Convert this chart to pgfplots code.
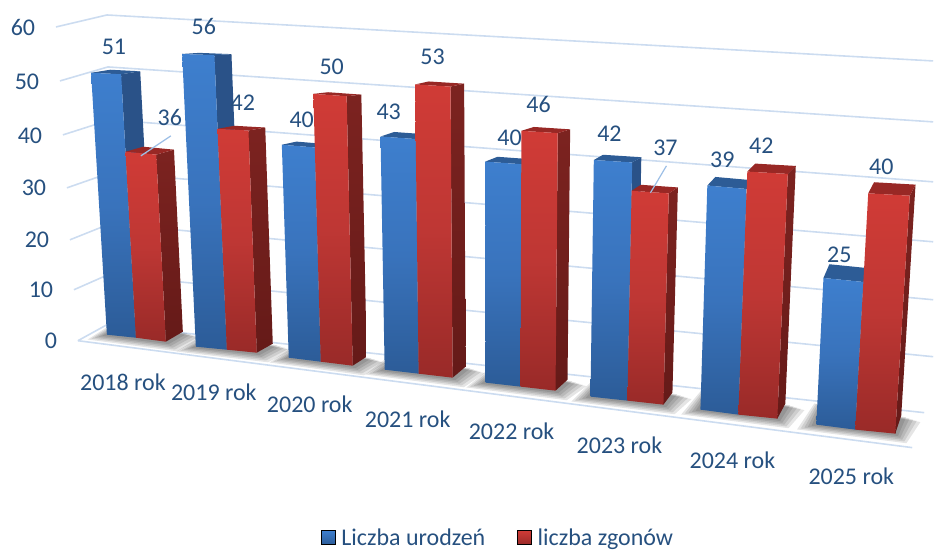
\documentclass[border=0pt]{standalone}
\usepackage{pgfplots}
\pgfplotsset{compat=1.18}
\usepackage{pgfplotstable}
\usepackage{fontspec}
\setmainfont{Carlito}
\definecolor{txt}{HTML}{26507F}
\definecolor{gridc}{HTML}{CCDCF0}
\definecolor{bT}{HTML}{3E7FCE}
\definecolor{bM}{HTML}{3973BC}
\definecolor{bB}{HTML}{2C5C98}
\definecolor{bS}{HTML}{2A5288}
\definecolor{bSb}{HTML}{2A5288}
\definecolor{bU}{HTML}{2D5C96}
\definecolor{rT}{HTML}{D03B36}
\definecolor{rM}{HTML}{BE3734}
\definecolor{rB}{HTML}{992A28}
\definecolor{rS}{HTML}{7C2320}
\definecolor{rSb}{HTML}{651A18}
\definecolor{rU}{HTML}{982825}
\definecolor{leader}{HTML}{9DBFE6}
% a bar corner: floor point (xb+dx, yb+dy), raised by the value v with the chart's perspective
\pgfplotstableset{
  px/.style={row sep=\\,
    x expr={(\thisrow{xb}+\thisrow{dx})+((\thisrow{xb}+\thisrow{dx})-500)*(5.03+0.00103*(\thisrow{xb}+\thisrow{dx}))*\thisrow{f}*\thisrow{v}/6500},
    y expr={(\thisrow{yb}+\thisrow{dy})-(5.03+0.00103*(\thisrow{xb}+\thisrow{dx}))*\thisrow{f}*\thisrow{v}}},
  sh/.style={row sep=\\}
}
% #1 colour prefix, #2 #3 front left, #4 #5 front right, #6 #7 depth, #8 value
\newcommand\threeDbar[8]{%
  \addplot[forget plot,draw=none,top color=#1S,bottom color=#1Sb] table[px]{xb yb dx dy f v\\
    #4 #5 0 0 1 #8\\ #4 #5 0 0 1 0\\ #4 #5 #6 #7 0.97 0\\ #4 #5 #6 #7 0.97 #8\\};
  \addplot[forget plot,draw=none,fill=#1U] table[px]{xb yb dx dy f v\\
    #2 #3 0 0 1 #8\\ #4 #5 0 0 1 #8\\ #4 #5 #6 #7 0.97 #8\\ #2 #3 #6 #7 0.97 #8\\};
  \addplot[forget plot,draw=none,top color=#1T,bottom color=#1B,middle color=#1M] table[px]{xb yb dx dy f v\\
    #2 #3 0 0 1 #8\\ #4 #5 0 0 1 #8\\ #4 #5 0 0 1 0\\ #2 #3 0 0 1 0\\};
}
% shadow under one group: #1 growth, #2 #3 front left, #4 #5 front right, #6 #7 depth
\newcommand\shadowlayer[7]{%
  \def\ee{#1}%
  \addplot[forget plot,draw=none,fill=black,fill opacity=0.1] table[sh,
     x expr={\thisrow{x}+\thisrow{dx}+\thisrow{ex}*\ee},y expr={\thisrow{y}+\thisrow{dy}+\thisrow{ey}*\ee}]{x y dx dy ex ey\\
     #2 #3 0 0 -1.2 0.3\\ #4 #5 0 0 0.7 0.6\\ #4 #5 #6 #7 1.2 0.4\\ #2 #3 #6 #7 -0.5 -0.2\\};
}
\newcommand\groupshadow[6]{%
  \shadowlayer{16}{#1}{#2}{#3}{#4}{#5}{#6}%
  \shadowlayer{13}{#1}{#2}{#3}{#4}{#5}{#6}%
  \shadowlayer{10}{#1}{#2}{#3}{#4}{#5}{#6}%
  \shadowlayer{7}{#1}{#2}{#3}{#4}{#5}{#6}%
  \shadowlayer{4}{#1}{#2}{#3}{#4}{#5}{#6}%
}
\begin{document}
\begin{tikzpicture}
\begin{axis}[x=1pt,y=1pt,xmin=0,xmax=934,ymin=0,ymax=550,y dir=reverse,hide axis,clip=false,
  legend style={at={(axis cs:498.5,538)},anchor=center,draw=none,fill=none,legend columns=2,
    font=\fontsize{24}{29}\selectfont,text=txt,
    /tikz/every even column/.append style={column sep=30pt}},
  legend cell align=left,
  ]
\path (axis cs:0,0) rectangle (axis cs:934,550);
% wall and floor lines
\addplot[forget plot,gridc,line width=1.6pt] coordinates{(56,27)(107,15)(934,61)};
\addplot[forget plot,gridc,line width=1.6pt] coordinates{(60,81)(108,67)(934,122)};
\addplot[forget plot,gridc,line width=1.6pt] coordinates{(63,135)(110,120)(934,182)};
\addplot[forget plot,gridc,line width=1.6pt] coordinates{(67,188)(110,173)(934,242)};
\addplot[forget plot,gridc,line width=1.6pt] coordinates{(70,240)(110,224)(934,300)};
\addplot[forget plot,gridc,line width=1.6pt] coordinates{(74,290)(108,275)(934,357)};
\addplot[forget plot,gridc,line width=1.6pt] coordinates{(78,341)(107,325)(925,413)};
\addplot[forget plot,gridc,line width=1.6pt] coordinates{(78,341)(913,448)};
% shadows
\groupshadow{107}{335}{166}{342}{17}{-10}
\groupshadow{196}{347}{257}{353}{16}{-9}
\groupshadow{289}{358}{353}{366}{14}{-9}
\groupshadow{385}{370}{453}{378}{13}{-11}
\groupshadow{486}{383}{556}{391}{12}{-11}
\groupshadow{591}{397}{664}{405}{9}{-12}
\groupshadow{701}{410}{778}{419}{8}{-15}
\groupshadow{817}{425}{896}{434}{6}{-18}
% bars: Liczba urodzeń (b), liczba zgonów (r)
\threeDbar{b}{107}{335}{136}{338}{18}{-10}{51}
\threeDbar{r}{136}{338}{166}{342}{17}{-10}{36}
\threeDbar{b}{196}{347}{227}{350}{16}{-9}{56}
\threeDbar{r}{227}{350}{257}{353}{16}{-9}{42}
\threeDbar{b}{289}{358}{321}{362}{14}{-9}{40}
\threeDbar{r}{321}{362}{353}{366}{14}{-9}{50}
\threeDbar{b}{385}{370}{419}{374}{13}{-11}{43}
\threeDbar{r}{419}{374}{453}{378}{13}{-11}{53}
\threeDbar{b}{486}{383}{521}{387}{12}{-11}{40}
\threeDbar{r}{521}{387}{556}{391}{12}{-11}{46}
\threeDbar{b}{591}{397}{628}{401}{9}{-12}{42}
\threeDbar{r}{628}{401}{664}{405}{9}{-12}{37}
\threeDbar{b}{701}{410}{739}{415}{8}{-15}{39}
\threeDbar{r}{739}{415}{778}{419}{8}{-15}{42}
\threeDbar{b}{817}{425}{856}{430}{6}{-18}{25}
\threeDbar{r}{856}{430}{896}{434}{6}{-18}{40}
% leader lines
\addplot[forget plot,leader,line width=1.2pt] coordinates{(141,156)(171,136)};
\addplot[forget plot,leader,line width=1.2pt] coordinates{(651,193)(667,166)};
% legend
\addlegendimage{legend image code/.code={\path[top color=bT,bottom color=bB](0pt,-7pt) rectangle (14pt,7pt);\path (18pt,0pt);}}
\addlegendentry{Liczba urodzeń}
\addlegendimage{legend image code/.code={\path[top color=rT,bottom color=rB](0pt,-7pt) rectangle (14pt,7pt);\path (18pt,0pt);}}
\addlegendentry{liczba zgonów}
% text
\tikzset{lab/.style={text=txt,font=\fontsize{24}{29}\selectfont,inner sep=0pt,anchor=center}}
\node[lab] at (axis cs:23,28){60};
\node[lab] at (axis cs:27,82){50};
\node[lab] at (axis cs:30,136){40};
\node[lab] at (axis cs:34,188){30};
\node[lab] at (axis cs:37,240){20};
\node[lab] at (axis cs:41,290){10};
\node[lab] at (axis cs:51,341){0};
\node[lab] at (axis cs:114,47){51};
\node[lab] at (axis cs:170,118){36};
\node[lab] at (axis cs:204,27){56};
\node[lab] at (axis cs:243,103){42};
\node[lab] at (axis cs:302,120){40};
\node[lab] at (axis cs:332,67){50};
\node[lab] at (axis cs:389,112){43};
\node[lab] at (axis cs:433,57){53};
\node[lab] at (axis cs:510,138){40};
\node[lab] at (axis cs:539,105){46};
\node[lab] at (axis cs:610,134){42};
\node[lab] at (axis cs:666,148){37};
\node[lab] at (axis cs:723,160){39};
\node[lab] at (axis cs:762,146){42};
\node[lab] at (axis cs:840,255){25};
\node[lab] at (axis cs:882,167){40};
\node[lab] at (axis cs:123,383){2018 rok};
\node[lab] at (axis cs:214,393){2019 rok};
\node[lab] at (axis cs:310,405){2020 rok};
\node[lab] at (axis cs:408,420){2021 rok};
\node[lab] at (axis cs:512,432){2022 rok};
\node[lab] at (axis cs:620,446){2023 rok};
\node[lab] at (axis cs:733,461){2024 rok};
\node[lab] at (axis cs:852,477){2025 rok};
\end{axis}
\end{tikzpicture}
\end{document}
